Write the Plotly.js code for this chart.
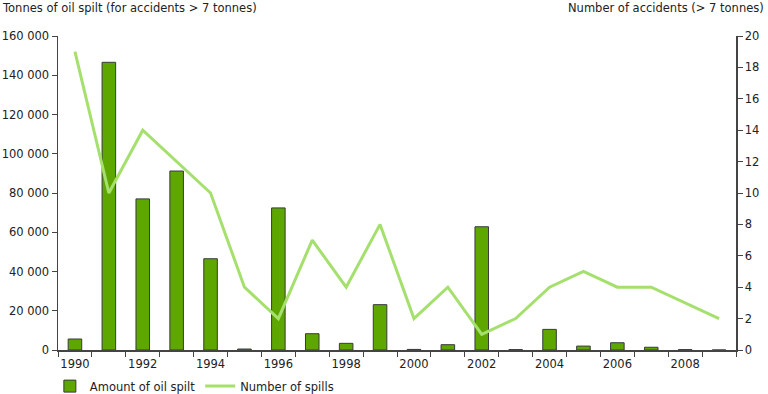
<!DOCTYPE html>
<html><head><meta charset="utf-8">
<script src="https://cdn.plot.ly/plotly-3.0.1.min.js"></script>
<style>html,body{margin:0;padding:0;background:#fff}#chart{width:768px;height:394px}</style>
</head><body><div id="chart"></div>
<script>
const years = [1990,1991,1992,1993,1994,1995,1996,1997,1998,1999,2000,2001,2002,2003,2004,2005,2006,2007,2008,2009];
const oilSpilt = [5600,146600,77000,91200,46500,500,72400,8300,3400,23100,300,2700,62800,200,10500,2000,3700,1400,200,0];
const spills = [19,10,14,12,10,4,2,7,4,8,2,4,1,2,4,5,4,4,3,2];
const yearLabels = [1990,1992,1994,1996,1998,2000,2002,2004,2006,2008];
const leftTicks = [0,20000,40000,60000,80000,100000,120000,140000,160000];
const rightTicks = [0,2,4,6,8,10,12,14,16,18,20];
const boundaries = years.map(y=>y-0.5).concat([years[years.length-1]+0.5]);

const font = {family:'"DejaVu Sans", Verdana, sans-serif', size:11.5, color:'#222'};
const data = [
 {type:'bar', x:years, y:oilSpilt, name:'Amount of oil spilt', width:0.4,
  marker:{color:'#5ea600', line:{color:'#3a3a3a', width:1}}, yaxis:'y'},
 {type:'scatter', mode:'lines', x:years, y:spills, name:'Number of spills', yaxis:'y2',
  line:{color:'#a5e06e', width:3}}
];
const layout = {
 width:768, height:394, margin:{l:58, r:32, t:36, b:44, autoexpand:false},
 paper_bgcolor:'#fff', plot_bgcolor:'#fff', font:font, separators:'. ',
 showlegend:true,
 legend:{orientation:'h', xref:'paper', yref:'container', x:-0.012, y:0.02, xanchor:'left', yanchor:'middle', font:font, itemwidth:30, tracegroupgap:0},
 xaxis:{range:[1989.5,2009.5], tickmode:'array', tickvals:yearLabels, ticktext:yearLabels.map(String),
  ticks:'', showgrid:false, zeroline:false, showline:true, linecolor:'#444', linewidth:1.5, ticklabelstandoff:3,
  minor:{tickmode:'array', tickvals:boundaries, ticks:'outside', ticklen:5, tickcolor:'#444', showgrid:false},
  tickfont:font},
 yaxis:{range:[0,160000], tickmode:'array', tickvals:leftTicks, tickformat:',.0f', showgrid:false, zeroline:false,
  showline:true, linecolor:'#444', linewidth:1.5, ticks:'outside', ticklen:5, tickcolor:'#444', tickfont:font},
 yaxis2:{range:[0,20], overlaying:'y', side:'right', tickmode:'array', tickvals:rightTicks, showgrid:false, zeroline:false,
  showline:true, linecolor:'#444', linewidth:1.5, ticks:'outside', ticklen:5, tickcolor:'#444', tickfont:font},
 annotations:[
  {xref:'paper', yref:'paper', x:-0.0855, y:1.089, xanchor:'left', yanchor:'middle', showarrow:false,
   text:'Tonnes of oil spilt (for accidents > 7 tonnes)', font:font},
  {xref:'paper', yref:'paper', x:1.044, y:1.089, xanchor:'right', yanchor:'middle', showarrow:false,
   text:'Number of accidents (> 7 tonnes)', font:font}
 ]
};
Plotly.newPlot('chart', data, layout, {displayModeBar:false, staticPlot:true});
</script></body></html>
